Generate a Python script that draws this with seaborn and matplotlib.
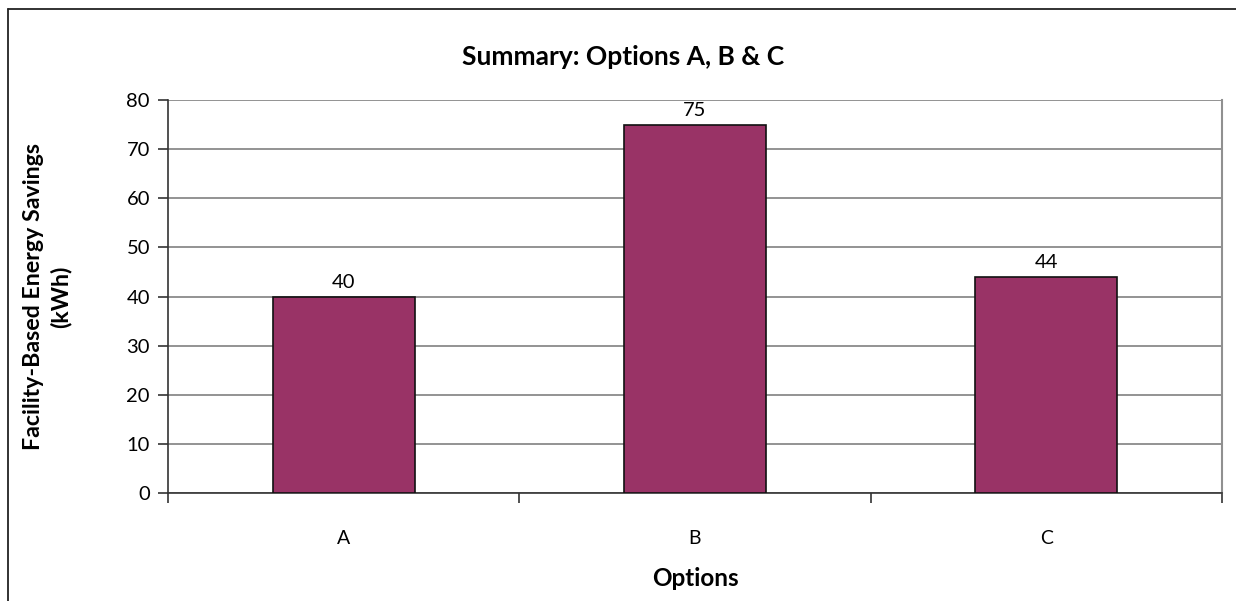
import matplotlib
matplotlib.use("Agg")
import matplotlib.pyplot as plt
from matplotlib.lines import Line2D
import seaborn as sns
import pandas as pd

options = ["A", "B", "C"]
savings = [40, 75, 44]
y_ticks = [0, 10, 20, 30, 40, 50, 60, 70, 80]

sns.set_theme(style="white")
plt.rcParams["font.family"] = ["Lato", "DejaVu Sans"]
plt.rcParams["text.color"] = "black"

W, H = 1236, 601
df = pd.DataFrame({"Options": options, "Savings": savings})

fig = plt.figure(figsize=(W / 100, H / 100), dpi=100)
ax = fig.add_axes([168 / W, 1 - 493 / H, (1222 - 168) / W, (493 - 100) / H])

sns.barplot(data=df, x="Options", y="Savings", color="#993366", width=0.405,
            edgecolor="#111111", linewidth=1.2, saturation=1, ax=ax, zorder=3)

ax.set_ylim(0, 80)
ax.set_yticks(y_ticks)
ax.set_xlim(-0.5, len(options) - 0.5)
ax.yaxis.grid(True, color="#808080", linewidth=1.2, zorder=0)
ax.set_axisbelow(True)

for side in ["left", "bottom"]:
    ax.spines[side].set_color("#333333")
    ax.spines[side].set_linewidth(1.2)
ax.spines["top"].set_visible(False)
ax.spines["right"].set_color("#909090")
ax.spines["right"].set_linewidth(1.5)

ax.tick_params(axis="y", which="both", left=True, length=7, width=1.2, color="#333333",
               labelsize=14.5, pad=6, labelcolor="black")
ax.tick_params(axis="x", bottom=False, labelsize=14, pad=21, labelcolor="black")

# category boundary ticks on the x axis
ax.set_xticks([-0.5, 0.5, 1.5, 2.5], minor=True)
ax.tick_params(axis="x", which="minor", bottom=True, length=7, width=1.2, color="#333333")

for c in ax.containers:
    ax.bar_label(c, labels=[str(v) for v in savings], padding=4, fontsize=14.5, color="black")

ax.set_xlabel("Options", fontsize=17.5, fontweight="bold", color="black")
ax.xaxis.label.set_va("center")
ax.xaxis.set_label_coords(0.5, (493 - 578) / (493 - 100))

ax.set_ylabel("Facility-Based Energy Savings\n(kWh)", fontsize=16.7, fontweight="bold",
              color="black", linespacing=1.3)
ax.yaxis.label.set_va("center")
ax.yaxis.set_label_coords((47 - 168) / (1222 - 168), (493 - 297) / (493 - 100))

fig.text(623 / W, 1 - 57 / H, "Summary: Options A, B & C", fontsize=19,
         fontweight="bold", ha="center", va="center", color="black")

# chart frame edges
fig.add_artist(Line2D([7.5 / W, 1], [1 - 8.5 / H, 1 - 8.5 / H],
                      transform=fig.transFigure, color="#222222", linewidth=1.3))
fig.add_artist(Line2D([7.5 / W, 7.5 / W], [0, 1 - 8.5 / H],
                      transform=fig.transFigure, color="#222222", linewidth=1.3))

fig.savefig("out.png", dpi=100, facecolor="white")
